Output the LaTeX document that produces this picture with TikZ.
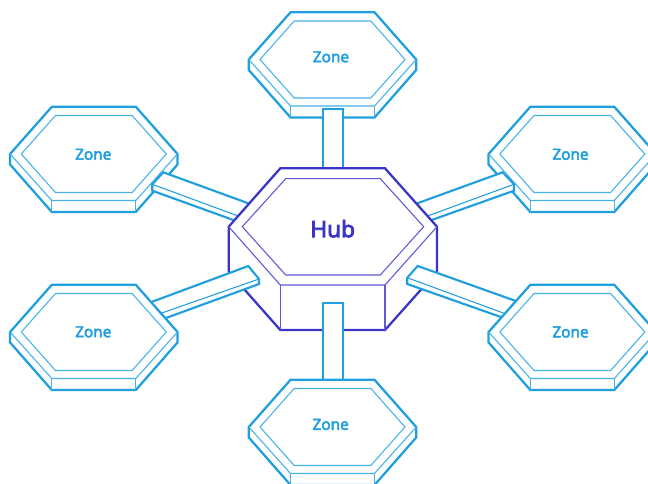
\documentclass[tikz,border=0pt]{standalone}
\usepackage{fontspec}
\setmainfont{Noto Sans}
\definecolor{zoneblue}{HTML}{1F9FDD}
\definecolor{zonelight}{HTML}{45B2E8}
\definecolor{hubblue}{HTML}{3B35C6}
\definecolor{hublight}{HTML}{5F5AD4}
\newcommand{\heavytext}[2]{\special{pdf:code q 2 Tr #1 w}#2\special{pdf:code Q}}
\tikzset{
  x=0.75pt, y=-0.75pt,
  zoneouter/.style={draw=zoneblue, line width=1.7pt, fill=white, line join=miter},
  zonefine/.style={draw=zonelight, line width=0.8pt},
  hubouter/.style={draw=hubblue, line width=1.7pt, fill=white, line join=miter},
  hubfine/.style={draw=hublight, line width=0.8pt},
  barouter/.style={draw=zoneblue, line width=1.6pt, fill=white, line join=miter},
  barfine/.style={draw=zoneblue, line width=0.8pt},
  zonelabel/.style={text=zoneblue, font=\fontsize{11.5pt}{13pt}\selectfont, inner sep=0pt},
  hublabel/.style={text=hubblue, font=\fontsize{17pt}{20pt}\selectfont, inner sep=0pt},
  pics/zone/.style={code={
    \draw[zoneouter] (-42,-47.2) -- (42,-47.2) -- (83.7,0) -- (83.7,10.5) -- (42,58) -- (-42,58) -- (-83.7,10.5) -- (-83.7,0) -- cycle;
    \draw[zonefine] (-38.3,-38.5) -- (38.3,-38.5) -- (72.5,0) -- (38.3,38.5) -- (-38.3,38.5) -- (-72.5,0) -- cycle;
    \draw[zonefine] (-83.7,0) -- (-42,46.5) -- (42,46.5) -- (83.7,0);
    \draw[zonefine] (-42,46.5) -- (-42,58) (42,46.5) -- (42,58);
  }}
}
\begin{document}
\begin{tikzpicture}
\useasboundingbox (0,0) rectangle (648,484);
\clip (0,0) rectangle (648,484);
\fill[white] (0,0) rectangle (648,484);
% upper zones
\pic at (332.5,59.5) {zone};
\pic at (93.8,154) {zone};
\pic at (572.3,154) {zone};
% upper bars
\draw[barouter] (323,168) -- (323,108.7) -- (343.3,108.7) -- (343.3,168);
\draw[barouter] (248.3,203.3) -- (163.3,172.3) -- (152.3,184.3) -- (152.3,190.7) -- (233.3,220);
\draw[barfine] (152.3,184.3) -- (237.3,215.7);
\draw[barouter] (417.3,203.3) -- (502.7,172.3) -- (514,184.3) -- (514,190.7) -- (431.7,220);
\draw[barfine] (514,184.3) -- (428.3,215.7);
% hub
\draw[hubouter] (280.3,168.3) -- (385,168.3) -- (437,226.7) -- (437,271.7) -- (385,330) -- (280.3,330) -- (228.7,271.7) -- (228.7,226.7) -- cycle;
\draw[hubfine] (285.7,178.7) -- (380.3,178.7) -- (423.7,226.7) -- (380.3,275) -- (285.7,275) -- (242.3,226.7) -- cycle;
\draw[hubfine] (228.7,226.7) -- (280.3,285) -- (385,285) -- (437,226.7);
\draw[hubfine] (280.3,285) -- (280.3,330) (385,285) -- (385,330);
% lower bars
\draw[barouter] (323,382) -- (323,303) -- (343.3,303) -- (343.3,382);
\draw[barouter] (152.3,301.7) -- (248.3,266) -- (259,279) -- (259,284) -- (166,318);
\draw[barfine] (259,279) -- (161,313.3);
\draw[barouter] (515,300.7) -- (417.7,266) -- (407.3,277.7) -- (407.3,284) -- (501.7,317.3);
\draw[barfine] (407.3,277.7) -- (504,313.3);
% lower zones
\pic at (93.8,332) {zone};
\pic at (572.3,332) {zone};
\pic at (332.5,427) {zone};
% labels
\node[hublabel] (hub) at (332.7,228.7) {\heavytext{0.55}{Hub}};
\node[zonelabel] (z1) at (331,56.8) {\heavytext{0.35}{Zone}};
\node[zonelabel] (z2) at (93.3,154.3) {\heavytext{0.35}{Zone}};
\node[zonelabel] (z3) at (570.5,154.3) {\heavytext{0.35}{Zone}};
\node[zonelabel] (z4) at (93.3,331.8) {\heavytext{0.35}{Zone}};
\node[zonelabel] (z5) at (570.5,332) {\heavytext{0.35}{Zone}};
\node[zonelabel] (z6) at (330.7,424.4) {\heavytext{0.35}{Zone}};
\end{tikzpicture}
\end{document}
